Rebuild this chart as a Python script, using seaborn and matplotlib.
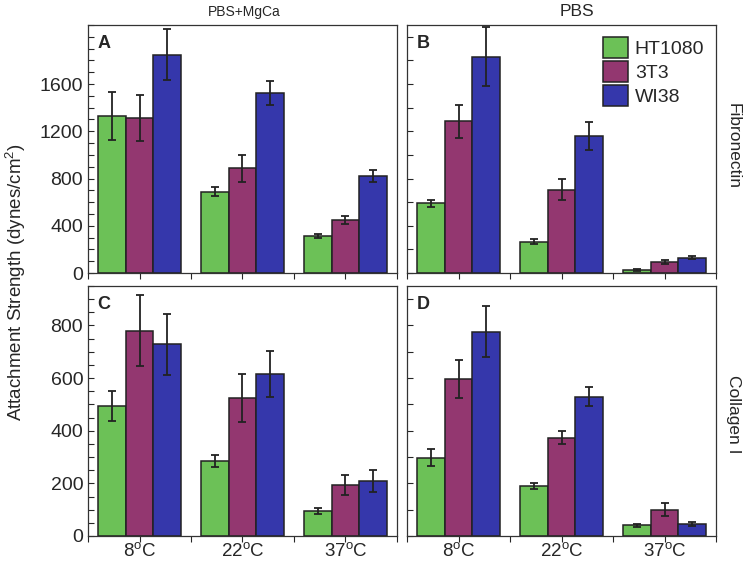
import pandas as pd
import numpy as np
import matplotlib.pyplot as plt
import seaborn as sns
from matplotlib.ticker import MultipleLocator, FixedLocator

# --- data ---
temps = ['8$^{\\mathrm{o}}$C', '22$^{\\mathrm{o}}$C', '37$^{\\mathrm{o}}$C']
cells = ['HT1080', '3T3', 'WI38']
colors = ['#6cc157', '#933770', '#3537ab']

# rows: HT1080, 3T3, WI38 ; columns: 8, 22, 37 C
a_mean = [[1330, 690, 315], [1310, 885, 445], [1850, 1525, 820]]
a_err = [[200, 42, 15], [195, 116, 34], [212, 103, 50]]
b_mean = [[590, 265, 25], [1285, 705, 95], [1830, 1160, 130]]
b_err = [[30, 20, 5], [140, 88, 18], [250, 120, 15]]
c_mean = [[493, 286, 96], [780, 525, 194], [728, 616, 209]]
c_err = [[57, 22, 12], [135, 90, 38], [117, 87, 42]]
d_mean = [[297, 190, 40], [596, 374, 100], [776, 529, 45]]
d_err = [[32, 10, 5], [72, 24, 24], [97, 36, 8]]

a_ticks = [0, 400, 800, 1200, 1600]
c_ticks = [0, 200, 400, 600, 800]


def to_frame(mean):
    rows = []
    for i, cell in enumerate(cells):
        for j, t in enumerate(temps):
            rows.append({'temp': t, 'cell': cell, 'strength': mean[i][j]})
    return pd.DataFrame(rows)


sns.set_style('ticks')
plt.rcParams['font.family'] = ['Liberation Sans', 'DejaVu Sans']
plt.rcParams['mathtext.fontset'] = 'custom'
plt.rcParams['mathtext.rm'] = 'Liberation Sans'

fig = plt.figure(figsize=(7.47, 5.63), dpi=100)
W, H = 747, 563


def add_ax(x0, y0, x1, y1):
    return fig.add_axes([x0 / W, 1 - y1 / H, (x1 - x0) / W, (y1 - y0) / H])


axA = add_ax(88, 25, 397, 273)
axB = add_ax(407, 25, 716, 273)
axC = add_ax(88, 286, 397, 536)
axD = add_ax(407, 286, 716, 536)

panels = [
    (axA, a_mean, a_err, 'A', 2100, 100, a_ticks, True, False),
    (axB, b_mean, b_err, 'B', 2100, 200, a_ticks, False, False),
    (axC, c_mean, c_err, 'C', 950, 50, c_ticks, True, True),
    (axD, d_mean, d_err, 'D', 950, 100, c_ticks, False, True),
]

for ax, mean, err, letter, ytop, minor, yticks, ylab, xlab in panels:
    df = to_frame(mean)
    sns.barplot(data=df, x='temp', y='strength', hue='cell', hue_order=cells,
                palette=colors, errorbar=None, edgecolor='#222222',
                linewidth=1.1, saturation=1, legend=False, ax=ax)
    for cont, e in zip(ax.containers, err):
        xs = [b.get_x() + b.get_width() / 2 for b in cont]
        ys = [b.get_height() for b in cont]
        ax.errorbar(xs, ys, yerr=e, fmt='none', ecolor='#222222',
                    elinewidth=1.3, capsize=3, capthick=1.3)
    ax.set_xlim(-0.5, 2.5)
    ax.set_ylim(0, ytop)
    ax.set_xlabel('')
    ax.set_ylabel('')
    ax.yaxis.set_major_locator(FixedLocator(yticks))
    ax.yaxis.set_minor_locator(MultipleLocator(minor))
    ax.set_xticks([0, 1, 2])
    ax.set_xticks([-0.5, 0.5, 1.5, 2.5], minor=True)
    ax.tick_params(axis='y', which='both', direction='in', length=4, width=0.8, labelsize=14)
    ax.tick_params(axis='x', which='both', direction='out', length=4, width=0.8, labelsize=13.5, pad=0.5)
    if not ylab:
        ax.set_yticklabels([])
    if not xlab:
        ax.set_xticklabels([])
    for s in ax.spines.values():
        s.set_linewidth(0.9)
        s.set_color('#333333')
    ax.text(0.03, 0.96, letter, transform=ax.transAxes, fontsize=13,
            fontweight='bold', va='top', ha='left')

axB.legend(handles=list(axB.containers), labels=cells, loc='upper right',
           frameon=False, fontsize=14, handlelength=1.3, handleheight=1.3,
           labelspacing=0.15, handletextpad=0.35, borderaxespad=0.2)

fig.text(244 / W, 1 - 12 / H, 'PBS+MgCa', ha='center', va='center', fontsize=10)
fig.text(577 / W, 1 - 12 / H, 'PBS', ha='center', va='center', fontsize=12.5)
fig.text(733 / W, 1 - 146 / H, 'Fibronectin', ha='center', va='center',
         rotation=270, fontsize=12.5)
fig.text(733 / W, 1 - 414 / H, 'Collagen I', ha='center', va='center',
         rotation=270, fontsize=12.5)
fig.text(16 / W, 1 - 282 / H, 'Attachment Strength (dynes/cm$^2$)',
         ha='center', va='center', rotation=90, fontsize=13.5)

plt.savefig('out.png', dpi=100)
